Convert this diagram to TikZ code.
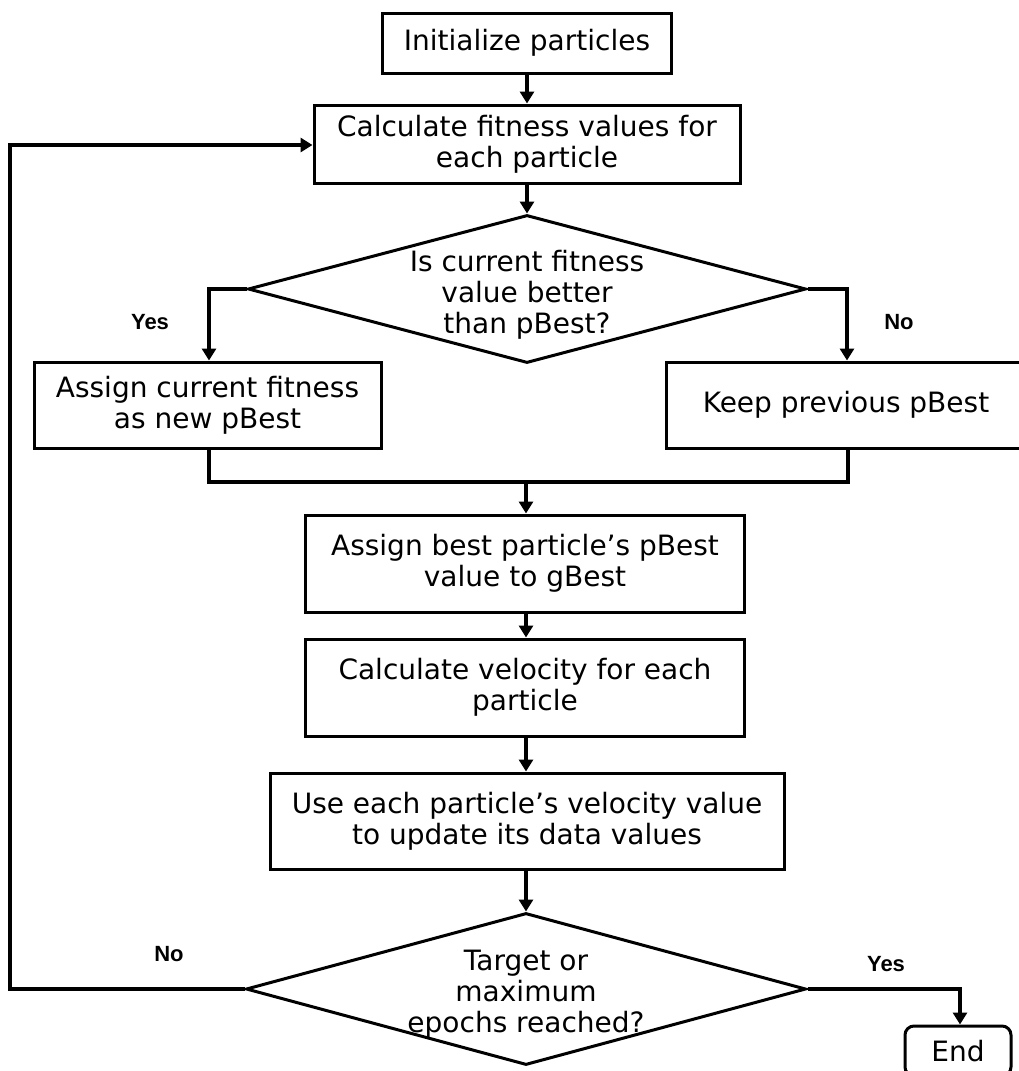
\documentclass[tikz,border=0pt]{standalone}
\usepackage{fontspec}
\setmainfont{DejaVu Sans}
\newfontfamily\lblfont{Liberation Sans}
\usetikzlibrary{shapes.geometric,arrows.meta}
\tikzset{
  stepbox/.style={draw, line width=3pt, rectangle, inner sep=0pt, align=center,
    font=\fontsize{28}{31}\selectfont},
  decide/.style={draw, line width=3pt, diamond, inner sep=0pt, aspect=3.7},
  endbox/.style={draw, line width=3pt, rectangle, rounded corners=9pt, inner sep=0pt,
    font=\fontsize{28}{31}\selectfont},
  conn/.style={line width=4.2pt, -{Triangle[width=14pt,length=12pt]}},
  plainconn/.style={line width=4.2pt},
  lbl/.style={font=\lblfont\bfseries\fontsize{22}{24}\selectfont, inner sep=0pt},
}
\newcommand{\dtext}[2]{\smash{\makebox[0pt]{\raisebox{#1}{\fontsize{28}{31}\selectfont\begin{tabular}{@{}c@{}}#2\end{tabular}}}}}
\begin{document}
\begin{tikzpicture}[x=1pt,y=-1pt]
\useasboundingbox (0,0) rectangle (1019,1071);

\node[stepbox, minimum width=289pt, minimum height=60pt] (init) at (527,43) {Initialize particles};
\node[stepbox, minimum width=426pt, minimum height=78pt] (calc) at (527,144) {Calculate fitness values for\\each particle};
\node[decide, minimum width=558pt, minimum height=148pt] (d1) at (527,289) {\dtext{-14pt}{Is current fitness\\value better\\than pBest?}};
\node[stepbox, minimum width=347pt, minimum height=86pt] (assign) at (207.5,405) {Assign current fitness\\as new pBest};
\node[stepbox, minimum width=360pt, minimum height=86pt] (keep) at (846,405) {Keep previous pBest};
\node[stepbox, minimum width=439pt, minimum height=97pt] (gbest) at (525,563.5) {Assign best particle’s pBest\\value to gBest};
\node[stepbox, minimum width=439pt, minimum height=97pt] (vel) at (525,687.5) {Calculate velocity for each\\particle};
\node[stepbox, minimum width=514pt, minimum height=96pt] (upd) at (527,821) {Use each particle’s velocity value\\to update its data values};
\node[decide, minimum width=560pt, minimum height=152pt] (d2) at (526,989) {\dtext{-13pt}{Target or\\maximum\\epochs reached?}};
\node[endbox, minimum width=106pt, minimum height=50pt] (end) at (958,1051) {End};

\coordinate (merge) at (526,482);
\coordinate (loopbot) at (10,989);
\coordinate (looptop) at (10,145);

\draw[conn] (init.south) -- (calc.north);
\draw[conn] (calc.south) -- (d1.north);
\draw[conn] (d1.west) -- (209,289) -- (assign.north -| 209,0);
\draw[conn] (d1.east) -- (847,289) -- (keep.north -| 847,0);
\draw[plainconn] (assign.south -| 209,0) -- (209,482) -- (848,482) -- (keep.south -| 848,0);
\draw[conn] (merge) -- (gbest.north -| merge);
\draw[conn] (gbest.south -| merge) -- (vel.north -| merge);
\draw[conn] (vel.south -| merge) -- (upd.north -| merge);
\draw[conn] (upd.south -| d2.north) -- (d2.north);
\draw[conn] (d2.west) -- (loopbot) -- (looptop) -- (calc.west |- looptop);
\draw[conn] (d2.east) -- (960,989) -- (end.north -| 960,0);

\node[lbl] (yes1) at (150,322) {Yes};
\node[lbl] (no1) at (899,322) {No};
\node[lbl] (no2) at (169,954) {No};
\node[lbl] (yes2) at (886,964) {Yes};
\end{tikzpicture}
\end{document}
